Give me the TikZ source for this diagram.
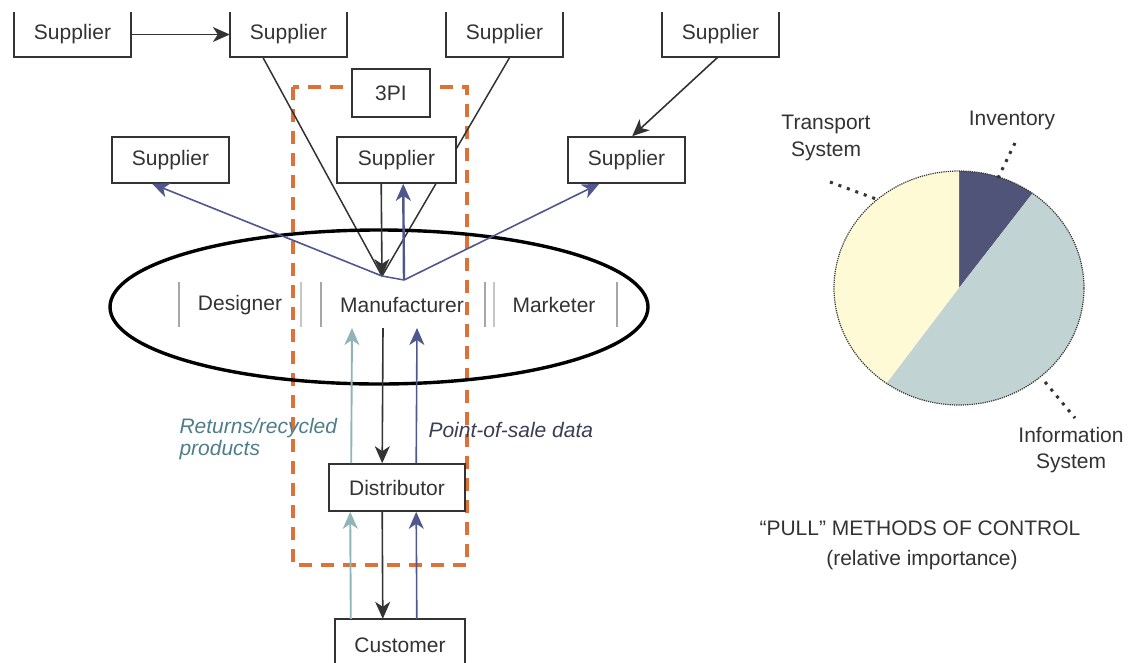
\documentclass[tikz,border=0pt]{standalone}
\usepackage{fontspec}
\setmainfont{Liberation Sans}
\usetikzlibrary{arrows.meta}
\definecolor{ink}{HTML}{333333}
\definecolor{navy}{HTML}{50568E}
\definecolor{teal}{HTML}{91B4B9}
\definecolor{tealtext}{HTML}{4F7D8A}
\definecolor{slatetext}{HTML}{3A3E55}
\definecolor{orng}{HTML}{DD7238}
\definecolor{invcol}{HTML}{505478}
\definecolor{infocol}{HTML}{C2D3D3}
\definecolor{trancol}{HTML}{FFFAD6}
\begin{document}
\begin{tikzpicture}[x=1pt,y=-1pt,
  lbl/.style={font=\fontsize{21}{25}\selectfont, text=ink},
  boxline/.style={draw=ink, line width=1.6pt},
  stbox/.style={lbl, boxline, fill=white, inner sep=0pt, minimum width=117pt, minimum height=46pt},
  openbox/.style={lbl, inner sep=0pt, minimum width=117pt, minimum height=45pt},
  tip/.style={-{Stealth[length=17pt,width=15pt,inset=5pt]}},
  blk/.style={tip, draw=ink, line width=1.6pt},
  blu/.style={tip, draw=navy, line width=1.6pt},
  tea/.style={tip, draw=teal, line width=1.9pt},
  bar/.style={line width=1.8pt},
  leader/.style={draw=ink, line width=3pt, dash pattern=on 3pt off 6pt}
]
\path[use as bounding box, clip] (0,0) rectangle (1130,662);

% 3PI boundary
\draw[orng, line width=3.2pt, dash pattern=on 13pt off 9pt] (293,87) rectangle (467,565);

% top row of suppliers (boxes open at the top)
\node[openbox] (s1) at (72.5,34.5) {Supplier};
\node[openbox] (s2) at (288.5,34.5) {Supplier};
\node[openbox] (s3) at (504.5,34.5) {Supplier};
\node[openbox] (s4) at (720.5,34.5) {Supplier};
\foreach \n in {s1,s2,s3,s4}
  \draw[boxline] (\n.north west) |- (\n.south east) -- (\n.north east);

% manufacturer hub
\coordinate (p) at (382,276);
\coordinate (pb) at (404,280);
\coordinate (mt) at (352,328);
\coordinate (mb) at (383,328);
\coordinate (mn) at (417,328);

% supply lines into the manufacturer
\draw[ink, line width=1.5pt] ([xshift=33pt]s2.south west) -- (p);
\draw[ink, line width=1.5pt] ([xshift=64pt]s3.south west) -- (p);

% enterprise ellipse
\draw[black, line width=3.4pt] (379,307) ellipse [x radius=269, y radius=77];
\draw[bar, gray!70] (179,282) -- (179,327);
\draw[bar, gray!45] (301,282) -- (301,327);
\draw[bar, gray!70] (321,282) -- (321,327);
\draw[bar, gray!70] (485,282) -- (485,327);
\draw[bar, gray!45] (494,282) -- (494,327);
\draw[bar, gray!70] (617,282) -- (617,327);
\node[lbl] (des) at (240,305) {Designer};
\node[lbl] (man) at (402,305) {Manufacturer};
\node[lbl] (mkt) at (554,305) {Marketer};

% second row of suppliers and 3PI
\node[stbox] (sml) at (170.5,160) {Supplier};
\node[stbox, minimum width=119pt] (smc) at (396.5,160) {Supplier};
\node[stbox] (smr) at (626.5,160) {Supplier};
\node[lbl, boxline, fill=white, inner sep=0pt, minimum width=78pt, minimum height=48pt] (tpl) at (391,93) {3PI};

\draw[blk] (s1.east) -- (s2.west);
\draw[blk] ([xshift=56pt]s4.south west) -- ([xshift=65pt]smr.north west);
\draw[blk] ([xshift=45pt]smc.south west) -- (p);

% information flows out of the manufacturer
\draw[navy, line width=1.5pt] (p) -- (pb);
\draw[blu] (p) -- ([xshift=41pt]sml.south west);
\draw[blu] (pb) -- ([xshift=32pt]smr.south west);
\draw[blu, line width=2.4pt] (pb) -- ([xshift=67pt]smc.south west);

% distributor and customer
\node[lbl, boxline, fill=white, inner sep=0pt, minimum width=136pt, minimum height=47pt] (dis) at (397,487.5) {Distributor};
\node[lbl, inner sep=0pt, minimum width=130pt, minimum height=52pt] (cu) at (400,645) {Customer};
\draw[boxline] (cu.south west) |- (cu.north east) -- (cu.south east);

\draw[tea] ([xshift=23pt]dis.north west) -- (mt);
\draw[blk] (mb) -- ([xshift=54pt]dis.north west);
\draw[blu] ([xshift=88pt]dis.north west) -- (mn);

\draw[tea] ([xshift=16pt]cu.north west) -- ([xshift=22pt]dis.south west);
\draw[blk] ([xshift=54pt]dis.south west) -- ([xshift=48pt]cu.north west);
\draw[blu] ([xshift=82pt]cu.north west) -- ([xshift=88pt]dis.south west);

\node[lbl, font=\fontsize{21}{22}\selectfont\itshape, text=tealtext, align=left, anchor=west] (ret) at (176,439) {Returns/recycled\\products};
\node[lbl, font=\fontsize{21}{22}\selectfont\itshape, text=slatetext, anchor=west] (pos) at (425,430) {Point-of-sale data};

% pie chart of pull methods
\begin{scope}[shift={(959,288)}, yscale=-1]
  \fill[invcol] (0,0) -- (54:125 and 117) arc[start angle=54, end angle=90, x radius=125, y radius=117] -- cycle;
  \fill[trancol] (0,0) -- (90:125 and 117) arc[start angle=90, end angle=234.6, x radius=125, y radius=117] -- cycle;
  \fill[infocol] (0,0) -- (234.6:125 and 117) arc[start angle=234.6, end angle=414, x radius=125, y radius=117] -- cycle;
  \draw[ink, line width=1.2pt, densely dotted] (0,0) ellipse [x radius=125, y radius=117];
\end{scope}

\node[lbl, font=\fontsize{21}{26.5}\selectfont, align=center] (tsys) at (826,138) {Transport\\System};
\node[lbl] (inv) at (1012,120) {Inventory};
\node[lbl, font=\fontsize{21}{26.5}\selectfont, align=center] (isys) at (1071,450) {Information\\System};

\coordinate (lt1) at (830,182);
\coordinate (lt2) at (876,199);
\coordinate (li1) at (1015,143);
\coordinate (li2) at (998,178);
\coordinate (lf1) at (1045,382);
\coordinate (lf2) at (1075,418);
\draw[leader] (lt1) -- (lt2);
\draw[leader] (li1) -- (li2);
\draw[leader] (lf1) -- (lf2);

\node[lbl] (cap1) at (920,528) {“PULL” METHODS OF CONTROL};
\node[lbl] (cap2) at (922,560) {(relative importance)};
\end{tikzpicture}
\end{document}
